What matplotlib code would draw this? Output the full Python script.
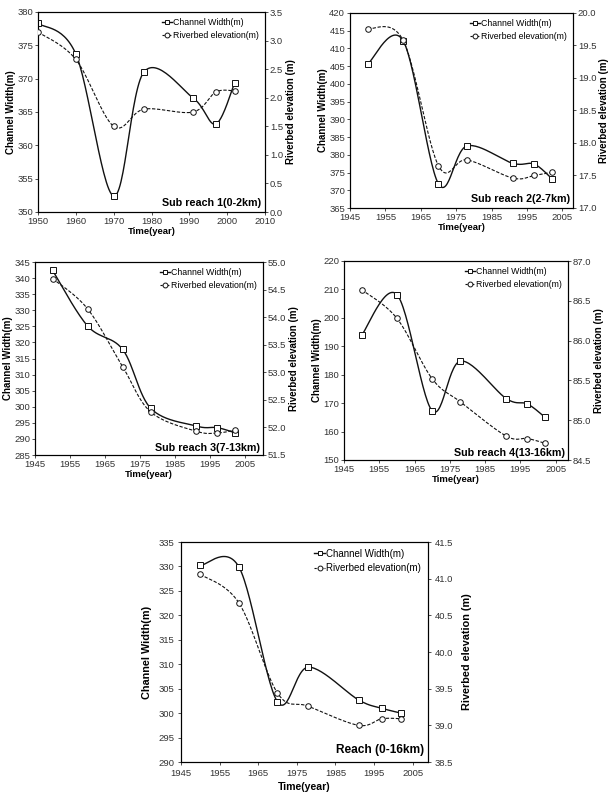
import matplotlib
matplotlib.use('Agg')
from matplotlib import pyplot as plt
from matplotlib.lines import Line2D
import numpy as np

plt.rcParams['font.family'] = ['Liberation Sans', 'DejaVu Sans']

years = [1950, 1960, 1970, 1978, 1991, 1997, 2002]

# channel width (m) and riverbed elevation (m) per reach
width_1 = [378.3, 373.7, 352.4, 371.0, 367.1, 363.2, 369.4]
elev_1 = [3.15, 2.67, 1.50, 1.80, 1.75, 2.10, 2.12]

width_2 = [405.6, 412.2, 371.8, 382.5, 377.6, 377.4, 373.3]
elev_2 = [19.76, 19.58, 17.65, 17.74, 17.46, 17.50, 17.55]

width_3 = [342.4, 325.1, 317.8, 299.5, 294.0, 293.5, 291.9]
elev_3 = [54.70, 54.15, 53.10, 52.28, 51.93, 51.90, 51.95]

width_4 = [193.9, 208.2, 167.3, 184.8, 171.6, 169.7, 165.0]
elev_4 = [86.64, 86.28, 85.52, 85.23, 84.80, 84.77, 84.71]

width_5 = [330.2, 329.9, 302.3, 309.4, 302.7, 301.0, 300.0]
elev_5 = [41.06, 40.67, 39.44, 39.26, 39.00, 39.09, 39.09]

titles = ['Sub reach 1(0-2km)', 'Sub reach 2(2-7km)', 'Sub reach 3(7-13km)',
          'Sub reach 4(13-16km)', 'Reach (0-16km)']


def smooth(x, y, n=30):
    # excel-like smoothed line (catmull-rom through bezier segments)
    p = np.column_stack([x, y]).astype(float)
    out = [p[0]]
    t = np.linspace(0, 1, n)[1:]
    for i in range(len(p) - 1):
        p0 = p[i - 1] if i > 0 else p[i]
        p1 = p[i]
        p2 = p[i + 1]
        p3 = p[i + 2] if i + 2 < len(p) else p[i + 1]
        c1 = p1 + (p2 - p0) / 6
        c2 = p2 - (p3 - p1) / 6
        for tt in t:
            b = ((1 - tt) ** 3) * p1 + 3 * ((1 - tt) ** 2) * tt * c1 \
                + 3 * (1 - tt) * tt ** 2 * c2 + tt ** 3 * p2
            out.append(b)
    out = np.array(out)
    return out[:, 0], out[:, 1]


def panel(rect, width, elev, title, wlim, wstep, elim, estep, xlim, xticks,
          s=0.9, pads=(1, 1, 2, 1.5), ty=0.02):
    ax = fig.add_axes(rect)
    ax2 = ax.twinx()
    sx, sy = smooth(years, width)
    ax.plot(sx, sy, color='#111111', lw=1.0)
    ax.plot(years, width, ls='none', marker='s', ms=4, mfc='white',
            mec='#111111', mew=0.7, zorder=5)
    ex, ey = smooth(years, elev)
    ax2.plot(ex, ey, color='#111111', lw=0.8, ls=(0, (3, 1.5)))
    ax2.plot(years, elev, ls='none', marker='o', ms=4, mfc='white',
             mec='#111111', mew=0.7, zorder=5)

    ax.set_xlim(*xlim)
    ax.set_xticks(xticks)
    ax.set_ylim(*wlim)
    ax.set_yticks(np.arange(wlim[0], wlim[1] + 0.01, wstep))
    ax2.set_ylim(*elim)
    ax2.set_yticks(np.arange(elim[0], elim[1] + 0.001, estep))
    ax2.yaxis.set_major_formatter(matplotlib.ticker.FormatStrFormatter('%.1f'))

    for a in (ax, ax2):
        a.tick_params(labelsize=6.8, length=2, width=0.6, pad=pads[3],
                      colors='#333333', labelcolor='#333333')
        for sp in a.spines.values():
            sp.set_linewidth(0.8)
    ax.set_xlabel('Time(year)', fontsize=7.6 * s, fontweight='bold',
                  labelpad=pads[0])
    ax.set_ylabel('Channel Width(m)', fontsize=7.8 * s, fontweight='bold',
                  labelpad=pads[1])
    ax2.set_ylabel('Riverbed elevation (m)', fontsize=7.8 * s, fontweight='bold',
                   labelpad=pads[2])
    ax.text(0.985, ty, title, transform=ax.transAxes, ha='right', va='bottom',
            fontsize=8.6 * s, fontweight='bold')

    handles = [Line2D([], [], color='#111111', lw=1.0, marker='s', ms=3.5,
                      mfc='white', mec='#111111', mew=0.7),
               Line2D([], [], color='#111111', lw=0.8, ls=(0, (2, 1)),
                      marker='o', ms=3.5, mfc='white', mec='#111111', mew=0.7)]
    ax.legend(handles, ['Channel Width(m)', 'Riverbed elevation(m)'],
              loc='upper right', frameon=False, fontsize=7 * s,
              handlelength=1.2, handletextpad=0.1, borderaxespad=0.4,
              labelspacing=0.45, borderpad=0.3)
    return ax


W, H = 614, 808
fig = plt.figure(figsize=(W / 100, H / 100), dpi=100)


def box(l, r, t, b):
    return [l / W, 1 - b / H, (r - l) / W, (b - t) / H]


xt = list(range(1945, 2006, 10))
panel(box(38, 265, 12, 212), width_1, elev_1, titles[0], (350, 380), 5,
      (0, 3.5), 0.5, (1950, 2010), list(range(1950, 2011, 10)))
panel(box(350, 573, 13, 208), width_2, elev_2, titles[1], (365, 420), 5,
      (17, 20), 0.5, (1945, 2008), xt)
panel(box(35, 263, 262, 455), width_3, elev_3, titles[2], (285, 345), 5,
      (51.5, 55), 0.5, (1945, 2010), xt, ty=0.008)
panel(box(344, 568, 261, 460), width_4, elev_4, titles[3], (150, 220), 10,
      (84.5, 87), 0.5, (1945, 2008.5), xt, ty=0.01)
panel(box(181, 428, 542, 762), width_5, elev_5, titles[4], (290, 335), 5,
      (38.5, 41.5), 0.5, (1945, 2009), xt, s=1.0, pads=(3, 4, 6, 3), ty=0.025)

fig.savefig('out.png', dpi=100)
